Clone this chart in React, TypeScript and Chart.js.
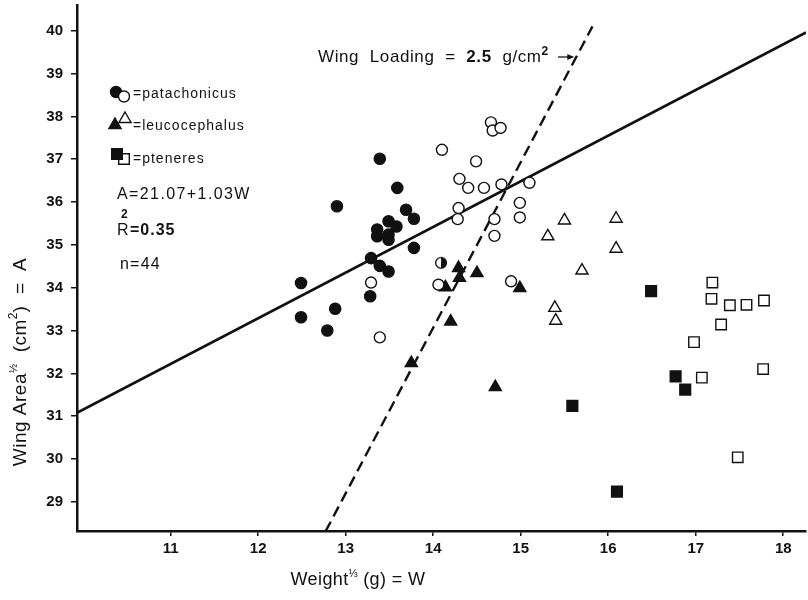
import React, { useEffect, useRef } from 'react';
import { Chart, registerables } from 'chart.js';

Chart.register(...registerables);

// ---- data (W = Weight^(1/3), A = Wing Area^(1/2)) ----
const patachonicusFilledW = [13.39, 13.59, 12.9, 13.69, 13.78, 13.49, 13.58, 13.36, 13.36, 13.49, 13.49, 13.78, 13.29, 13.39, 13.49, 12.49, 13.28, 12.88, 12.49, 12.79];
const patachonicusFilledA = [37.01, 36.33, 35.9, 35.82, 35.61, 35.55, 35.43, 35.36, 35.2, 35.24, 35.12, 34.93, 34.69, 34.51, 34.38, 34.11, 33.8, 33.51, 33.31, 33.0];
const patachonicusOpenW = [13.29, 13.39, 14.66, 14.68, 14.77, 14.1, 14.49, 14.3, 14.4, 14.58, 14.78, 15.1, 14.99, 14.29, 14.28, 14.7, 14.99, 14.7, 14.89, 14.06];
const patachonicusOpenA = [34.12, 32.84, 37.86, 37.67, 37.73, 37.22, 36.95, 36.54, 36.33, 36.33, 36.41, 36.45, 35.98, 35.86, 35.6, 35.6, 35.64, 35.21, 34.15, 34.07];
const patachonicusHalfW = [14.09];
const patachonicusHalfA = [34.58];
const leucocephalusFilledW = [14.29, 14.3, 14.5, 14.99, 14.2, 14.71, 14.14, 13.75];
const leucocephalusFilledA = [34.46, 34.23, 34.34, 33.99, 33.21, 31.68, 34.01, 32.24];
const leucocephalusOpenW = [15.7, 15.39, 15.4, 15.5, 15.31, 16.09, 16.09];
const leucocephalusOpenA = [34.4, 33.53, 33.23, 35.57, 35.2, 35.61, 34.91];
const pteneresFilledW = [16.49, 16.77, 16.88, 16.1, 15.59];
const pteneresFilledA = [33.92, 31.93, 31.62, 29.24, 31.24];
const pteneresOpenW = [17.19, 17.18, 17.39, 17.58, 17.78, 17.29, 16.98, 17.07, 17.77, 17.48];
const pteneresOpenA = [34.12, 33.74, 33.59, 33.6, 33.7, 33.14, 32.73, 31.9, 32.1, 30.04];

// regression line A = 21.07 + 1.03W (end points)
const regressionW = [9.93, 18.26];
const regressionA = [31.08, 39.96];
// wing loading = 2.5 g/cm^2 line (end points)
const loadingW = [12.77, 15.82];
const loadingA = [28.31, 40.1];

const xTickValues = [11, 12, 13, 14, 15, 16, 17, 18];
const yTickValues = [29, 30, 31, 32, 33, 34, 35, 36, 37, 38, 39, 40];

const speciesLabels = ['=patachonicus', '=leucocephalus', '=pteneres'];
const equationText = 'A=21.07+1.03W';
const r2Text = '=0.35';
const nText = 'n=44';

const FONT = '"Liberation Sans", Arial, Helvetica, sans-serif';
const INK = '#111';

const pts = (xs: number[], ys: number[]) => xs.map((x, i) => ({ x, y: ys[i] }));

function halfCircleImage(): HTMLCanvasElement {
  const c = document.createElement('canvas');
  c.width = 14;
  c.height = 14;
  const g = c.getContext('2d')!;
  g.fillStyle = '#fff';
  g.beginPath();
  g.arc(7, 7, 5.4, 0, Math.PI * 2);
  g.fill();
  g.fillStyle = INK;
  g.beginPath();
  g.arc(7, 7, 5.4, -Math.PI / 2, Math.PI / 2);
  g.closePath();
  g.fill();
  g.strokeStyle = INK;
  g.lineWidth = 1.4;
  g.beginPath();
  g.arc(7, 7, 5.4, 0, Math.PI * 2);
  g.stroke();
  return c;
}

type Seg = { t: string; size: number; weight?: string; dy?: number; ls?: number };

function runWidth(ctx: CanvasRenderingContext2D, segs: Seg[]) {
  let w = 0;
  for (const s of segs) {
    ctx.font = `${s.weight || 'normal'} ${s.size}px ${FONT}`;
    (ctx as any).letterSpacing = `${s.ls || 0}px`;
    w += ctx.measureText(s.t).width;
  }
  return w;
}

function drawRun(ctx: CanvasRenderingContext2D, segs: Seg[], x: number, y: number, align: 'left' | 'center' = 'left') {
  let cx = x;
  if (align === 'center') cx = x - runWidth(ctx, segs) / 2;
  ctx.textAlign = 'left';
  ctx.textBaseline = 'alphabetic';
  for (const s of segs) {
    ctx.font = `${s.weight || 'normal'} ${s.size}px ${FONT}`;
    (ctx as any).letterSpacing = `${s.ls || 0}px`;
    ctx.fillText(s.t, cx, y + (s.dy || 0));
    cx += ctx.measureText(s.t).width;
  }
  (ctx as any).letterSpacing = '0px';
}

function marker(ctx: CanvasRenderingContext2D, kind: string, x: number, y: number, filled: boolean) {
  ctx.beginPath();
  if (kind === 'circle') {
    ctx.arc(x, y, 5.5, 0, Math.PI * 2);
  } else if (kind === 'triangle') {
    const r = 7;
    ctx.moveTo(x, y - r);
    ctx.lineTo(x + r * Math.sin((2 * Math.PI) / 3), y + r / 2);
    ctx.lineTo(x - r * Math.sin((2 * Math.PI) / 3), y + r / 2);
    ctx.closePath();
  } else {
    ctx.rect(x - 5.3, y - 5.3, 10.6, 10.6);
  }
  ctx.fillStyle = filled ? INK : '#fff';
  ctx.fill();
  ctx.strokeStyle = INK;
  ctx.lineWidth = 1.4;
  ctx.stroke();
}

const textPlugin = {
  id: 'figureText',
  afterDraw(chart: any) {
    const ctx: CanvasRenderingContext2D = chart.ctx;
    ctx.save();
    ctx.fillStyle = INK;

    // legend markers + labels
    marker(ctx, 'circle', 116, 92, true);
    marker(ctx, 'circle', 124, 96.5, false);
    marker(ctx, 'triangle', 125, 119, false);
    marker(ctx, 'triangle', 115, 125, true);
    marker(ctx, 'square', 124, 159, false);
    marker(ctx, 'square', 117, 154, true);
    ctx.fillStyle = INK;
    drawRun(ctx, [{ t: speciesLabels[0], size: 14, ls: 1 }], 133, 98);
    drawRun(ctx, [{ t: speciesLabels[1], size: 14, ls: 1 }], 133, 130);
    drawRun(ctx, [{ t: speciesLabels[2], size: 14, ls: 1 }], 133, 163);

    // equation block
    drawRun(ctx, [{ t: equationText, size: 16, ls: 1.4 }], 117, 199);
    drawRun(ctx, [{ t: 'R', size: 16, ls: 1 }], 117, 235);
    drawRun(ctx, [{ t: '2', size: 12, weight: 'bold' }], 121, 218);
    drawRun(ctx, [{ t: r2Text, size: 16, weight: 'bold', ls: 1 }], 130, 235);
    drawRun(ctx, [{ t: nText, size: 16, ls: 1.2 }], 120, 269);

    // wing loading annotation
    drawRun(
      ctx,
      [
        { t: 'Wing  Loading  =  ', size: 17, ls: 0.6 },
        { t: '2.5', size: 17, weight: 'bold', ls: 0.6 },
        { t: '  g/cm', size: 17, ls: 0.6 },
        { t: '2', size: 12, weight: 'bold', dy: -7 },
      ],
      318,
      62
    );
    // arrow pointing at the dashed line
    const ys = chart.scales.y;
    const xs = chart.scales.x;
    const ay = 57;
    const aVal = ys.getValueForPixel(ay);
    const wAt = loadingW[0] + ((aVal - loadingA[0]) * (loadingW[1] - loadingW[0])) / (loadingA[1] - loadingA[0]);
    const ax = xs.getPixelForValue(wAt) - 2;
    ctx.strokeStyle = INK;
    ctx.lineWidth = 1.3;
    ctx.beginPath();
    ctx.moveTo(558, ay);
    ctx.lineTo(ax - 4, ay);
    ctx.stroke();
    ctx.beginPath();
    ctx.moveTo(ax, ay);
    ctx.lineTo(ax - 7, ay - 3);
    ctx.lineTo(ax - 7, ay + 3);
    ctx.closePath();
    ctx.fill();

    // x axis title
    drawRun(
      ctx,
      [
        { t: 'Weight', size: 18, ls: 0.4 },
        { t: '⅓', size: 11, dy: -8 },
        { t: ' (g) = W', size: 18, ls: 0.4 },
      ],
      358,
      585,
      'center'
    );

    // y axis title (rotated)
    ctx.translate(26, 362);
    ctx.rotate(-Math.PI / 2);
    drawRun(
      ctx,
      [
        { t: 'Wing Area', size: 19, ls: 0.5 },
        { t: '½', size: 11, dy: -9 },
        { t: '  (cm', size: 19, ls: 0.5 },
        { t: '2', size: 12, dy: -9 },
        { t: ')  =  A', size: 19, ls: 0.5 },
      ],
      0,
      0,
      'center'
    );
    ctx.restore();
  },
};

export default function App() {
  const ref = useRef<HTMLCanvasElement>(null);

  useEffect(() => {
    if (!ref.current) return;
    const half = halfCircleImage();
    const base = { showLine: false, borderColor: INK, borderWidth: 1.4 };
    const chart = new Chart(ref.current, {
      type: 'scatter',
      data: {
        datasets: [
          {
            ...base,
            label: 'regression',
            type: 'line' as any,
            data: pts(regressionW, regressionA),
            showLine: true,
            borderWidth: 2.6,
            pointRadius: 0,
            order: 10,
          },
          {
            ...base,
            label: 'wing loading',
            type: 'line' as any,
            data: pts(loadingW, loadingA),
            showLine: true,
            borderWidth: 2.4,
            borderDash: [11, 6],
            pointRadius: 0,
            order: 9,
          },
          { ...base, label: 'patachonicus (filled)', data: pts(patachonicusFilledW, patachonicusFilledA), pointStyle: 'circle', pointRadius: 5.6, backgroundColor: INK, order: 5 },
          { ...base, label: 'leucocephalus (filled)', data: pts(leucocephalusFilledW, leucocephalusFilledA), pointStyle: 'triangle', pointRadius: 7, backgroundColor: INK, order: 4 },
          { ...base, label: 'patachonicus (open)', data: pts(patachonicusOpenW, patachonicusOpenA), pointStyle: 'circle', pointRadius: 5.5, backgroundColor: '#fff', order: 3 },
          { ...base, label: 'patachonicus (half)', data: pts(patachonicusHalfW, patachonicusHalfA), pointStyle: half as any, pointRadius: 6, order: 2 },
          { ...base, label: 'leucocephalus (open)', data: pts(leucocephalusOpenW, leucocephalusOpenA), pointStyle: 'triangle', pointRadius: 7, backgroundColor: '#fff', order: 3 },
          { ...base, label: 'pteneres (filled)', data: pts(pteneresFilledW, pteneresFilledA), pointStyle: 'rect', pointRadius: 7.6, backgroundColor: INK, order: 3 },
          { ...base, label: 'pteneres (open)', data: pts(pteneresOpenW, pteneresOpenA), pointStyle: 'rect', pointRadius: 7.4, backgroundColor: '#fff', order: 3 },
        ],
      },
      options: {
        animation: false,
        responsive: false,
        maintainAspectRatio: false,
        layout: { autoPadding: false, padding: { left: 0, right: 2, top: 5, bottom: 0 } },
        plugins: { legend: { display: false }, tooltip: { enabled: false } },
        elements: { line: { tension: 0 } },
        scales: {
          x: {
            type: 'linear',
            min: 9.93,
            max: 18.26,
            afterBuildTicks: (s: any) => {
              s.ticks = xTickValues.map((v) => ({ value: v }));
            },
            afterFit: (s: any) => {
              s.height = 69;
              s.paddingLeft = 0;
              s.paddingRight = 0;
            },
            grid: { drawOnChartArea: false, drawTicks: true, tickLength: 5, color: INK, lineWidth: 1.5 },
            border: { display: true, color: INK, width: 2.5 },
            ticks: { color: INK, font: { family: FONT, size: 15, weight: 'bold' }, padding: 4, maxRotation: 0, autoSkip: false },
          },
          y: {
            type: 'linear',
            min: 28.32,
            max: 40.6,
            afterBuildTicks: (s: any) => {
              s.ticks = yTickValues.map((v) => ({ value: v }));
            },
            afterFit: (s: any) => {
              s.width = 77;
              s.paddingTop = 0;
              s.paddingBottom = 0;
            },
            grid: { drawOnChartArea: false, drawTicks: true, tickLength: 6, color: INK, lineWidth: 1.5 },
            border: { display: true, color: INK, width: 2.5 },
            ticks: { color: INK, font: { family: FONT, size: 15, weight: 'bold' }, padding: 8, autoSkip: false },
          },
        },
      },
      plugins: [textPlugin],
    } as any);
    return () => chart.destroy();
  }, []);

  return (
    <div style={{ position: 'fixed', left: 0, top: 0, width: 808, height: 600, background: '#fff' }}>
      <canvas ref={ref} width={808} height={600} style={{ display: 'block' }} />
    </div>
  );
}
